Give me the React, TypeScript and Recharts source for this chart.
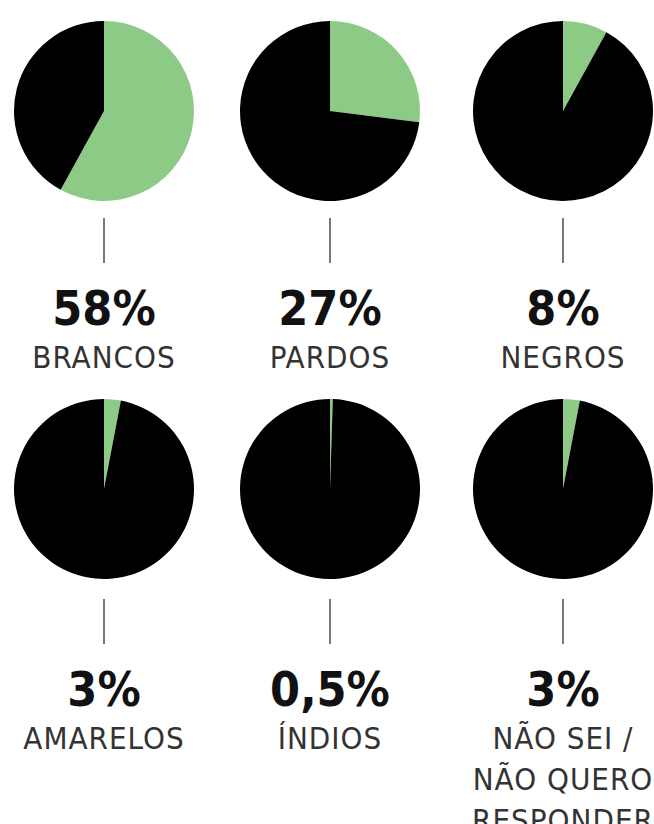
import { PieChart, Pie, Cell } from "recharts";

// fatias: parcela do grupo (verde) vs. resto (preto)
const categories = ["BRANCOS", "PARDOS", "NEGROS", "AMARELOS", "ÍNDIOS", "NÃO SEI / NÃO QUERO RESPONDER"];
const labelLines = [["BRANCOS"], ["PARDOS"], ["NEGROS"], ["AMARELOS"], ["ÍNDIOS"], ["NÃO SEI /", "NÃO QUERO", "RESPONDER"]];
const shares = [58, 27, 8, 3, 0.5, 3];
const shareLabels = ["58%", "27%", "8%", "3%", "0,5%", "3%"];

const GREEN = "#8cca86";
const BLACK = "#000000";
const FONT = "'DejaVu Sans Condensed', 'DejaVu Sans', sans-serif";

const W = 654;
const H = 824;
const colX = [104, 330, 563];
const rowY = [111, 489];
const R = 90;

export default function App() {
  return (
    <div style={{ position: "absolute", left: 0, top: 0, width: W, height: H, background: "#fff", overflow: "hidden" }}>
      <PieChart
        width={W}
        height={H}
        margin={{ top: 0, right: 0, bottom: 0, left: 0 }}
        style={{ position: "absolute", left: 0, top: 0 }}
      >
        {categories.map((name, i) => {
          const data = [
            { key: "grupo", name, value: shares[i] },
            { key: "resto", name: "outros", value: 100 - shares[i] },
          ];
          return (
            <Pie
              key={name}
              data={data}
              dataKey="value"
              cx={colX[i % 3]}
              cy={rowY[Math.floor(i / 3)]}
              innerRadius={0}
              outerRadius={R}
              startAngle={90}
              endAngle={-270}
              stroke="none"
              isAnimationActive={false}
            >
              <Cell fill={GREEN} />
              <Cell fill={BLACK} />
            </Pie>
          );
        })}
      </PieChart>
      <svg width={W} height={H} style={{ position: "absolute", left: 0, top: 0, pointerEvents: "none" }}>
        {categories.map((name, i) => {
          const x = colX[i % 3];
          const row = Math.floor(i / 3);
          const base = row === 0 ? 0 : 381;
          return (
            <g key={name}>
              <line x1={x} x2={x} y1={218 + base} y2={263 + base} stroke="#777" strokeWidth={2} />
              <text x={x} y={325 + base} textAnchor="middle" fontFamily={FONT} fontWeight={700} fontSize={48} fill="#111">
                {shareLabels[i]}
              </text>
              {labelLines[i].map((l, j) => (
                <text
                  key={l}
                  x={x}
                  y={368 + base + j * 41}
                  textAnchor="middle"
                  fontFamily={FONT}
                  fontSize={31}
                  letterSpacing={1}
                  fill="#333"
                >
                  {l}
                </text>
              ))}
            </g>
          );
        })}
      </svg>
    </div>
  );
}
